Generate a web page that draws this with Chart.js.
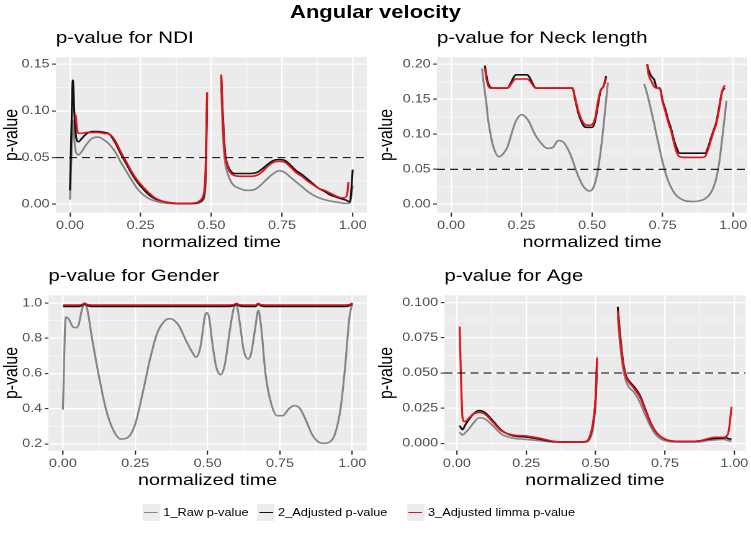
<!DOCTYPE html>
<html>
<head>
<meta charset="utf-8">
<script src="https://cdn.jsdelivr.net/npm/chart.js@4.4.0/dist/chart.umd.min.js"></script>
<style>
  html, body { margin: 0; padding: 0; background: #fff; }
  body { width: 751px; height: 533px; overflow: hidden; position: relative;
         font-family: 'Liberation Sans', Arial, Helvetica, sans-serif; }
  /* the reference figure is stretched sideways, so lay out at 605px and scale */
  #page { position: absolute; left: 0; top: 0; width: 605px; height: 533px;
          transform-origin: 0 0; transform: scaleX(1.2413); }
  #title { position: absolute; left: 0; top: 2px; width: 605px; text-align: center;
           font-weight: bold; font-size: 17.7px; color: #000; }
  canvas { position: absolute; }
  .key { position: absolute; top: 504px; width: 14px; height: 17px; background: #ececec; }
  .key span { position: absolute; left: 1.5px; top: 7.7px; width: 11px; height: 1.6px; }
  .ltext { position: absolute; top: 505px; font-size: 10.3px; line-height: 15px; color: #000; white-space: nowrap; }
</style>
</head>
<body>
<div id="page">
  <div id="title">Angular velocity</div>
  <canvas id="c1" style="left:0px;top:22px"></canvas>
  <canvas id="c2" style="left:302px;top:22px"></canvas>
  <canvas id="c3" style="left:0px;top:260px"></canvas>
  <canvas id="c4" style="left:302px;top:260px"></canvas>
  <div id="legend"></div>
</div>
<script>
// series names and colours
var seriesNames = ['1_Raw p-value', '2_Adjusted p-value', '3_Adjusted limma p-value'];
var seriesColors = ['#858585', '#111111', '#e3121b'];
var cutoff = 0.05;

// x axis (shared)
var timeTicks = [0, 0.25, 0.5, 0.75, 1];
var timeLabels = ['0.00', '0.25', '0.50', '0.75', '1.00'];

// p-value for NDI
var ndiTime = [0, 0.005, 0.01, 0.015, 0.02, 0.025, 0.03, 0.04, 0.06, 0.08, 0.1, 0.12, 0.14, 0.16, 0.18, 0.2,
  0.22, 0.24, 0.26, 0.28, 0.3, 0.33, 0.36, 0.4, 0.43, 0.45, 0.46, 0.47, 0.475, 0.48, 0.485, 0.51,
  0.535, 0.54, 0.545, 0.55, 0.56, 0.57, 0.58, 0.6, 0.62, 0.64, 0.66, 0.68, 0.7, 0.72, 0.74, 0.76, 0.78, 0.8,
  0.82, 0.84, 0.86, 0.88, 0.9, 0.92, 0.94, 0.96, 0.97, 0.98, 0.985, 0.99, 0.995, 1.0];
var ndiRaw = [0.005, 0.05, 0.09, 0.07, 0.057, 0.054, 0.053, 0.056, 0.065, 0.071, 0.072, 0.069, 0.064, 0.056, 0.045, 0.035,
  0.025, 0.016, 0.010, 0.006, 0.0035, 0.0015, 0.0008, 0.0005, 0.0005, 0.001, 0.002, 0.004, 0.008, 0.025, 0.1, null,
  0.125, 0.08, 0.055, 0.042, 0.031, 0.024, 0.02, 0.017, 0.015, 0.015, 0.017, 0.022, 0.028, 0.033, 0.036, 0.034, 0.029, 0.024,
  0.019, 0.014, 0.010, 0.007, 0.005, 0.0035, 0.0025, 0.0015, 0.001, 0.001, 0.001, 0.002, 0.008, 0.02];
var ndiAdj = [0.015, 0.08, 0.133, 0.1, 0.076, 0.068, 0.067, 0.07, 0.076, 0.078, 0.078, 0.077, 0.075, 0.066, 0.054, 0.043,
  0.032, 0.023, 0.016, 0.010, 0.006, 0.003, 0.0015, 0.001, 0.001, 0.0015, 0.003, 0.006, 0.012, 0.035, 0.118, null,
  0.137, 0.1, 0.07, 0.052, 0.04, 0.035, 0.033, 0.033, 0.033, 0.033, 0.034, 0.038, 0.043, 0.047, 0.048, 0.047, 0.042, 0.036,
  0.032, 0.027, 0.022, 0.017, 0.014, 0.010, 0.008, 0.006, 0.005, 0.004, 0.003, 0.0025, 0.015, 0.037];
var ndiLimma = [null, null, null, null, 0.096, 0.08, 0.076, 0.076, 0.077, 0.077, 0.077, 0.076, 0.075, 0.068, 0.056, 0.045,
  0.034, 0.025, 0.018, 0.012, 0.007, 0.003, 0.0015, 0.001, 0.0012, 0.002, 0.004, 0.008, 0.015, 0.04, 0.12, null,
  0.139, 0.095, 0.065, 0.05, 0.038, 0.033, 0.031, 0.030, 0.030, 0.030, 0.031, 0.035, 0.041, 0.045, 0.046, 0.045, 0.04, 0.034,
  0.030, 0.025, 0.021, 0.017, 0.015, 0.012, 0.009, 0.007, 0.007, 0.01, 0.024, null, null, null];
var ndiTicks = [0, 0.05, 0.1, 0.15];
var ndiLabels = ['0.00', '0.05', '0.10', '0.15'];

// p-value for Neck length
var neckTime = [0.11, 0.115, 0.12, 0.125, 0.13, 0.14, 0.15, 0.17, 0.19, 0.2, 0.21, 0.22, 0.23, 0.25, 0.27,
  0.28, 0.29, 0.3, 0.32, 0.34, 0.36, 0.38, 0.4, 0.42, 0.43, 0.44, 0.45, 0.46, 0.47, 0.48,
  0.49, 0.5, 0.51, 0.52, 0.53, 0.54, 0.55, 0.556, 0.62,
  0.685, 0.69, 0.695, 0.7, 0.71, 0.72, 0.73, 0.74, 0.75, 0.76, 0.77, 0.78, 0.79, 0.8, 0.81,
  0.83, 0.86, 0.89, 0.9, 0.91, 0.92, 0.93, 0.94, 0.95, 0.96, 0.97, 0.976];
var neckRaw = [0.194, 0.175, 0.16, 0.145, 0.125, 0.1, 0.082, 0.068, 0.075, 0.082, 0.095, 0.108, 0.119, 0.128, 0.122,
  0.115, 0.106, 0.098, 0.087, 0.080, 0.081, 0.091, 0.088, 0.074, 0.064, 0.052, 0.041, 0.032, 0.025, 0.021,
  0.019, 0.021, 0.03, 0.048, 0.075, 0.11, 0.15, 0.174, null,
  0.172, 0.165, 0.158, 0.15, 0.133, 0.115, 0.096, 0.078, 0.060, 0.045, 0.033, 0.024, 0.017, 0.012, 0.009,
  0.005, 0.004, 0.006, 0.008, 0.011, 0.016, 0.024, 0.037, 0.058, 0.09, 0.125, 0.148];
var neckAdj = [null, null, 0.198, 0.185, 0.175, 0.167, 0.166, 0.166, 0.166, 0.166, 0.172, 0.180, 0.185, 0.185, 0.185,
  0.180, 0.172, 0.166, 0.166, 0.166, 0.166, 0.166, 0.166, 0.166, 0.166, 0.150, 0.132, 0.12, 0.112, 0.110,
  0.110, 0.110, 0.118, 0.140, 0.162, 0.168, 0.183, null, null,
  null, null, 0.2, 0.192, 0.183, 0.178, 0.166, 0.166, 0.148, 0.135, 0.12, 0.108, 0.092, 0.08, 0.073,
  0.073, 0.073, 0.073, 0.073, 0.08, 0.093, 0.105, 0.117, 0.138, 0.16, 0.166, null];
var neckLimma = [null, null, 0.195, 0.18, 0.171, 0.166, 0.166, 0.166, 0.166, 0.166, 0.170, 0.176, 0.179, 0.179, 0.179,
  0.176, 0.170, 0.166, 0.166, 0.166, 0.166, 0.166, 0.166, 0.166, 0.166, 0.152, 0.135, 0.123, 0.116, 0.113,
  0.113, 0.114, 0.122, 0.145, 0.163, 0.168, 0.18, null, null,
  null, null, 0.2, 0.186, 0.176, 0.168, 0.166, 0.165, 0.146, 0.132, 0.117, 0.105, 0.088, 0.074, 0.068,
  0.067, 0.067, 0.067, 0.068, 0.077, 0.09, 0.103, 0.115, 0.135, 0.16, 0.17, null];
var neckTicks = [0, 0.05, 0.1, 0.15, 0.2];
var neckLabels = ['0.00', '0.05', '0.10', '0.15', '0.20'];

// p-value for Gender
var genderTime = [0, 0.01, 0.02, 0.035, 0.045, 0.055, 0.065, 0.075, 0.085, 0.1, 0.125, 0.15, 0.175, 0.2, 0.225,
  0.25, 0.275, 0.3, 0.325, 0.35, 0.37, 0.4, 0.425, 0.45, 0.46, 0.475, 0.49, 0.495, 0.505, 0.515,
  0.53, 0.545, 0.56, 0.575, 0.59, 0.6, 0.61, 0.625, 0.64, 0.65, 0.665, 0.675, 0.685, 0.7, 0.72,
  0.74, 0.76, 0.78, 0.8, 0.82, 0.84, 0.86, 0.88, 0.9, 0.92, 0.94, 0.96, 0.975, 0.99, 1.0];
var genderRaw = [0.395, 0.92, 0.91, 0.864, 0.86, 0.88, 0.958, 0.996, 0.958, 0.807, 0.58, 0.39, 0.276, 0.228, 0.238,
  0.314, 0.484, 0.674, 0.826, 0.896, 0.911, 0.873, 0.788, 0.712, 0.693, 0.75, 0.92, 0.945, 0.92, 0.788,
  0.636, 0.594, 0.655, 0.826, 0.968, 0.987, 0.9, 0.73, 0.683, 0.712, 0.864, 0.958, 0.864, 0.598, 0.427,
  0.361, 0.361, 0.399, 0.418, 0.399, 0.333, 0.257, 0.215, 0.204, 0.21, 0.257, 0.409, 0.636, 0.92, 1.0];
var genderAdj = [0.981, 0.981, 0.981, 0.981, 0.981, 0.981, 0.985, 0.994, 0.985, 0.981, 0.981, 0.981, 0.981, 0.981, 0.981,
  0.981, 0.981, 0.981, 0.981, 0.981, 0.981, 0.981, 0.981, 0.981, 0.981, 0.981, 0.981, 0.981, 0.981, 0.981,
  0.981, 0.981, 0.981, 0.981, 0.985, 0.993, 0.984, 0.981, 0.981, 0.981, 0.981, 0.993, 0.984, 0.981, 0.981,
  0.981, 0.981, 0.981, 0.981, 0.981, 0.981, 0.981, 0.981, 0.981, 0.981, 0.981, 0.981, 0.981, 0.985, 0.997];
var genderLimma = [0.989, 0.989, 0.989, 0.989, 0.989, 0.989, 0.991, 0.999, 0.991, 0.989, 0.989, 0.989, 0.989, 0.989, 0.989,
  0.989, 0.989, 0.989, 0.989, 0.989, 0.989, 0.989, 0.989, 0.989, 0.989, 0.989, 0.989, 0.989, 0.989, 0.989,
  0.989, 0.989, 0.989, 0.989, 0.991, 0.998, 0.99, 0.989, 0.989, 0.989, 0.989, 0.998, 0.99, 0.989, 0.989,
  0.989, 0.989, 0.989, 0.989, 0.989, 0.989, 0.989, 0.989, 0.989, 0.989, 0.989, 0.989, 0.989, 0.991, 1.0];
var genderTicks = [0.2, 0.4, 0.6, 0.8, 1.0];
var genderLabels = ['0.2', '0.4', '0.6', '0.8', '1.0'];

// p-value for Age
var ageTime = [0.01, 0.015, 0.02, 0.025, 0.03, 0.04, 0.06, 0.08, 0.1, 0.13, 0.16, 0.2, 0.25, 0.3, 0.35,
  0.4, 0.45, 0.47, 0.48, 0.49, 0.5, 0.505, 0.54,
  0.58, 0.585, 0.59, 0.6, 0.61, 0.62, 0.64, 0.66, 0.68, 0.7, 0.72, 0.75, 0.8, 0.85, 0.88,
  0.9, 0.93, 0.96, 0.97, 0.98, 0.99];
var ageRaw = [0.0078, 0.0068, 0.006, 0.0065, 0.0075, 0.0095, 0.0145, 0.0182, 0.0175, 0.0125, 0.0067, 0.0038, 0.0028, 0.0019, 0.001,
  0.0008, 0.0008, 0.0012, 0.0035, 0.010, 0.028, 0.05, null,
  0.09, 0.077, 0.067, 0.052, 0.044, 0.040, 0.036, 0.029, 0.0197, 0.0114, 0.0055, 0.0019, 0.001, 0.001, 0.0012,
  0.0019, 0.0025, 0.0029, 0.0025, 0.002, 0.0014];
var ageAdj = [0.0126, 0.011, 0.0097, 0.011, 0.013, 0.016, 0.021, 0.0233, 0.022, 0.016, 0.0095, 0.0055, 0.0045, 0.003, 0.0012,
  0.001, 0.001, 0.0018, 0.005, 0.013, 0.032, 0.058, null,
  0.097, 0.085, 0.074, 0.057, 0.048, 0.0445, 0.040, 0.034, 0.024, 0.014, 0.0075, 0.003, 0.0014, 0.0014, 0.0019,
  0.0028, 0.0035, 0.0038, 0.004, 0.0033, 0.003];
var ageLimma = [0.083, 0.045, 0.019, 0.0157, 0.0155, 0.0173, 0.021, 0.022, 0.021, 0.015, 0.009, 0.006, 0.0052, 0.0036, 0.0014,
  0.001, 0.001, 0.0019, 0.0055, 0.0138, 0.033, 0.061, null,
  0.094, 0.082, 0.072, 0.056, 0.047, 0.0435, 0.0387, 0.0328, 0.0233, 0.0138, 0.0074, 0.0031, 0.0014, 0.0014, 0.0019,
  0.0031, 0.0043, 0.0043, 0.0048, 0.009, 0.026];
var ageTicks = [0, 0.025, 0.05, 0.075, 0.1];
var ageLabels = ['0.000', '0.025', '0.050', '0.075', '0.100'];


var fontFamily = "'Liberation Sans', Arial, Helvetica, sans-serif";

var panelBackground = {
  id: 'panelBackground',
  beforeDraw: function (chart) {
    var a = chart.chartArea;
    var ctx = chart.ctx;
    ctx.save();
    ctx.fillStyle = '#ebebeb';
    ctx.fillRect(a.left, a.top, a.right - a.left, a.bottom - a.top);
    ctx.restore();
  }
};

// major breaks plus the ggplot style minor breaks half way between them
function withMinors(majors) {
  var all = majors.slice();
  for (var i = 0; i < majors.length - 1; i++) {
    all.push((majors[i] + majors[i + 1]) / 2);
  }
  return all.sort(function (a, b) { return a - b; });
}

function majorIndex(v, majors) {
  for (var i = 0; i < majors.length; i++) {
    if (Math.abs(v - majors[i]) < 1e-9) return i;
  }
  return -1;
}

function axisOptions(majors, labels, min, max, opts) {
  return {
    type: 'linear',
    min: min,
    max: max,
    afterBuildTicks: function (s) {
      s.ticks = withMinors(majors).map(function (v) { return {value: v}; });
    },
    afterFit: opts.afterFit,
    ticks: {
      autoSkip: false,
      maxRotation: 0,
      padding: opts.tickPadding,
      color: '#4d4d4d',
      font: {family: fontFamily, size: 11.6},
      callback: function (v) {
        var i = majorIndex(v, majors);
        return i < 0 ? '' : labels[i];
      }
    },
    grid: {
      color: '#ffffff',
      lineWidth: function (c) {
        if (!c.tick) return 0;
        return majorIndex(c.tick.value, majors) < 0 ? 0.55 : 1.2;
      },
      tickLength: opts.tickLength,
      tickWidth: 1.1,
      tickColor: function (c) {
        if (!c.tick) return 'rgba(0,0,0,0)';
        return majorIndex(c.tick.value, majors) < 0 ? 'rgba(0,0,0,0)' : '#333333';
      }
    },
    border: {display: false},
    title: {
      display: true,
      text: opts.title,
      color: '#000',
      font: {family: fontFamily, size: 15.9},
      padding: {top: 0, bottom: 0}
    }
  };
}

function drawPanel(cfg) {
  var values = [cfg.raw, cfg.adj, cfg.limma];
  var datasets = values.map(function (vals, k) {
    return {
      label: seriesNames[k],
      data: cfg.time.map(function (t, i) { return {x: t, y: vals[i]}; }),
      borderColor: seriesColors[k],
      borderWidth: 1.6,
      pointRadius: 0,
      cubicInterpolationMode: 'monotone',
      spanGaps: false,
      order: 3 - k
    };
  });
  if (cfg.showCutoff) {
    datasets.push({
      label: 'cutoff',
      data: [{x: cfg.xMin, y: cutoff}, {x: cfg.xMax, y: cutoff}],
      borderColor: '#000',
      borderWidth: 1.1,
      borderDash: [6.5, 4],
      pointRadius: 0,
      order: 0
    });
  }

  var canvas = document.getElementById(cfg.id);
  canvas.width = cfg.width;
  canvas.height = 230;

  new Chart(canvas, {
    type: 'line',
    data: {datasets: datasets},
    plugins: [panelBackground],
    options: {
      responsive: false,
      animation: false,
      devicePixelRatio: 2,
      layout: {padding: {left: 0, right: cfg.padRight, top: 0, bottom: 0}},
      plugins: {
        legend: {display: false},
        tooltip: {enabled: false},
        title: {
          display: true,
          text: cfg.title,
          align: 'start',
          fullSize: false,
          color: '#000',
          font: {family: fontFamily, size: 16.5, weight: 'normal'},
          padding: {top: 6.4, bottom: 9.1}
        }
      },
      scales: {
        x: axisOptions(timeTicks, timeLabels, cfg.xMin, cfg.xMax, {
          title: 'normalized time', tickLength: 4, tickPadding: 2,
          afterFit: function (s) { s.height = 39.3; }
        }),
        y: axisOptions(cfg.yTicks, cfg.yLabels, cfg.yMin, cfg.yMax, {
          title: 'p-value', tickLength: 3, tickPadding: 2,
          afterFit: function (s) { s.width = cfg.yWidth; }
        })
      }
    }
  });
}

drawPanel({id: 'c1', width: 302, title: 'p-value for NDI', time: ndiTime, raw: ndiRaw, adj: ndiAdj, limma: ndiLimma,
  yTicks: ndiTicks, yLabels: ndiLabels, yMin: -0.009, yMax: 0.1575, xMin: -0.05, xMax: 1.05,
  yWidth: 45, padRight: 6.5, showCutoff: true});
drawPanel({id: 'c2', width: 303, title: 'p-value for Neck length', time: neckTime, raw: neckRaw, adj: neckAdj, limma: neckLimma,
  yTicks: neckTicks, yLabels: neckLabels, yMin: -0.012, yMax: 0.21, xMin: -0.05, xMax: 1.05,
  yWidth: 50, padRight: 3, showCutoff: true});
drawPanel({id: 'c3', width: 302, title: 'p-value for Gender', time: genderTime, raw: genderRaw, adj: genderAdj, limma: genderLimma,
  yTicks: genderTicks, yLabels: genderLabels, yMin: 0.162, yMax: 1.044, xMin: -0.05, xMax: 1.05,
  yWidth: 39, padRight: 6.5, showCutoff: false});
drawPanel({id: 'c4', width: 303, title: 'p-value for Age', time: ageTime, raw: ageRaw, adj: ageAdj, limma: ageLimma,
  yTicks: ageTicks, yLabels: ageLabels, yMin: -0.0052, yMax: 0.1052, xMin: -0.045, xMax: 1.04,
  yWidth: 56, padRight: 3, showCutoff: true});

// shared legend under the panels
var legendLeft = [131.6, 224, 344.8];
var legend = document.getElementById('legend');
seriesNames.forEach(function (name, k) {
  var key = document.createElement('div');
  key.className = 'key';
  key.style.left = (legendLeft[k] - 17) + 'px';
  key.innerHTML = '<span style="background:' + seriesColors[k] + '"></span>';
  legend.appendChild(key);
  var txt = document.createElement('div');
  txt.className = 'ltext';
  txt.style.left = legendLeft[k] + 'px';
  txt.textContent = name;
  legend.appendChild(txt);
});
</script>
</body>
</html>
